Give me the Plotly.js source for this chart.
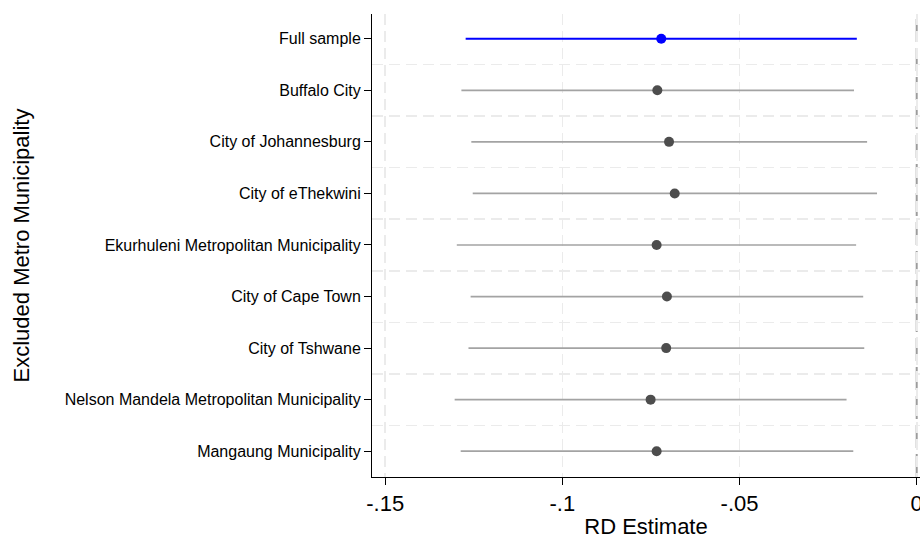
<!DOCTYPE html>
<html>
<head>
<meta charset="utf-8">
<script src="https://cdn.plot.ly/plotly-3.0.1.min.js"></script>
<style>
  html, body { margin: 0; padding: 0; background: #ffffff; overflow: hidden; }
  #chart { width: 920px; height: 539px; }
</style>
</head>
<body>
<div id="chart"></div>
<script>
// Categories (top to bottom)
const categories = [
  "Full sample",
  "Buffalo City",
  "City of Johannesburg",
  "City of eThekwini",
  "Ekurhuleni Metropolitan Municipality",
  "City of Cape Town",
  "City of Tshwane",
  "Nelson Mandela Metropolitan Municipality",
  "Mangaung Municipality"
];
// RD point estimates
const estimates = [-0.0721, -0.0732, -0.0699, -0.0683, -0.0734, -0.0705, -0.0707, -0.0751, -0.0734];
// Confidence interval bounds
const ciLow  = [-0.1273, -0.1285, -0.1257, -0.1253, -0.1298, -0.1259, -0.1265, -0.1304, -0.1287];
const ciHigh = [-0.0169, -0.0177, -0.0140, -0.0112, -0.0171, -0.0151, -0.0148, -0.0198, -0.0179];
// X tick labels
const xTickVals = [-0.15, -0.1, -0.05, 0];
const xTickText = ["-.15", "-.1", "-.05", "0"];
// Reference line
const refLine = 0;

const idx = categories.map((_, i) => i);
function pick(arr, ids) { return ids.map(i => arr[i]); }
const fullIds = [0];
const restIds = idx.slice(1);

function makeTrace(ids, lineColor, dotColor, lineWidth) {
  const x = pick(estimates, ids);
  return {
    type: "scatter",
    mode: "markers",
    x: x,
    y: ids,
    text: pick(categories, ids),
    marker: { color: dotColor, size: 10 },
    error_x: {
      type: "data",
      symmetric: false,
      array: ids.map(i => ciHigh[i] - estimates[i]),
      arrayminus: ids.map(i => estimates[i] - ciLow[i]),
      color: lineColor,
      thickness: lineWidth,
      width: 0
    },
    showlegend: false,
    hoverinfo: "x+text"
  };
}

const traces = [
  makeTrace(restIds, "#a3a3a3", "#4d4d4d", 1.7),
  makeTrace(fullIds, "#0000ff", "#0000ff", 2)
];

const font = "Liberation Sans, Arial, sans-serif";

const layout = {
  width: 920,
  height: 539,
  margin: { l: 372, r: 0, t: 14, b: 62 },
  paper_bgcolor: "#ffffff",
  plot_bgcolor: "#ffffff",
  font: { family: font, color: "#000000" },
  xaxis: {
    range: [-0.15373, 0.00093],
    tickvals: xTickVals,
    ticktext: xTickText,
    ticks: "outside",
    ticklen: 7,
    tickwidth: 1,
    tickcolor: "#000000",
    tickfont: { size: 22, family: font, color: "#000000" },
    ticklabeloverflow: "allow",
    automargin: false,
    showline: true,
    linecolor: "#000000",
    linewidth: 1,
    showgrid: true,
    gridcolor: "#ebebeb",
    gridwidth: 1.6,
    griddash: "11px,6px",
    zeroline: false,
    title: { text: "RD Estimate", font: { size: 22, family: font, color: "#000000" }, standoff: 8 }
  },
  yaxis: {
    range: [8.5, -0.48],
    tickvals: idx,
    ticktext: categories,
    ticks: "outside",
    ticklen: 7,
    tickwidth: 1,
    tickcolor: "#000000",
    tickfont: { size: 16, family: font, color: "#000000" },
    showline: true,
    linecolor: "#000000",
    linewidth: 1,
    showgrid: false,
    zeroline: false,
    minor: {
      tickmode: "linear",
      tick0: 0.5,
      dtick: 1,
      ticks: "",
      showgrid: true,
      gridcolor: "#ebebeb",
      gridwidth: 1.6,
      griddash: "11px,6px"
    },
    title: { text: "Excluded Metro Municipality", font: { size: 22, family: font, color: "#000000" }, standoff: 28 }
  },
  shapes: [{
    type: "line",
    xref: "x", yref: "paper",
    x0: refLine, x1: refLine, y0: 0, y1: 1,
    line: { color: "#9c9c9c", width: 2, dash: "23px,6px" },
    layer: "below"
  }]
};

Plotly.newPlot("chart", traces, layout, { displayModeBar: false, staticPlot: true });
</script>
</body>
</html>
